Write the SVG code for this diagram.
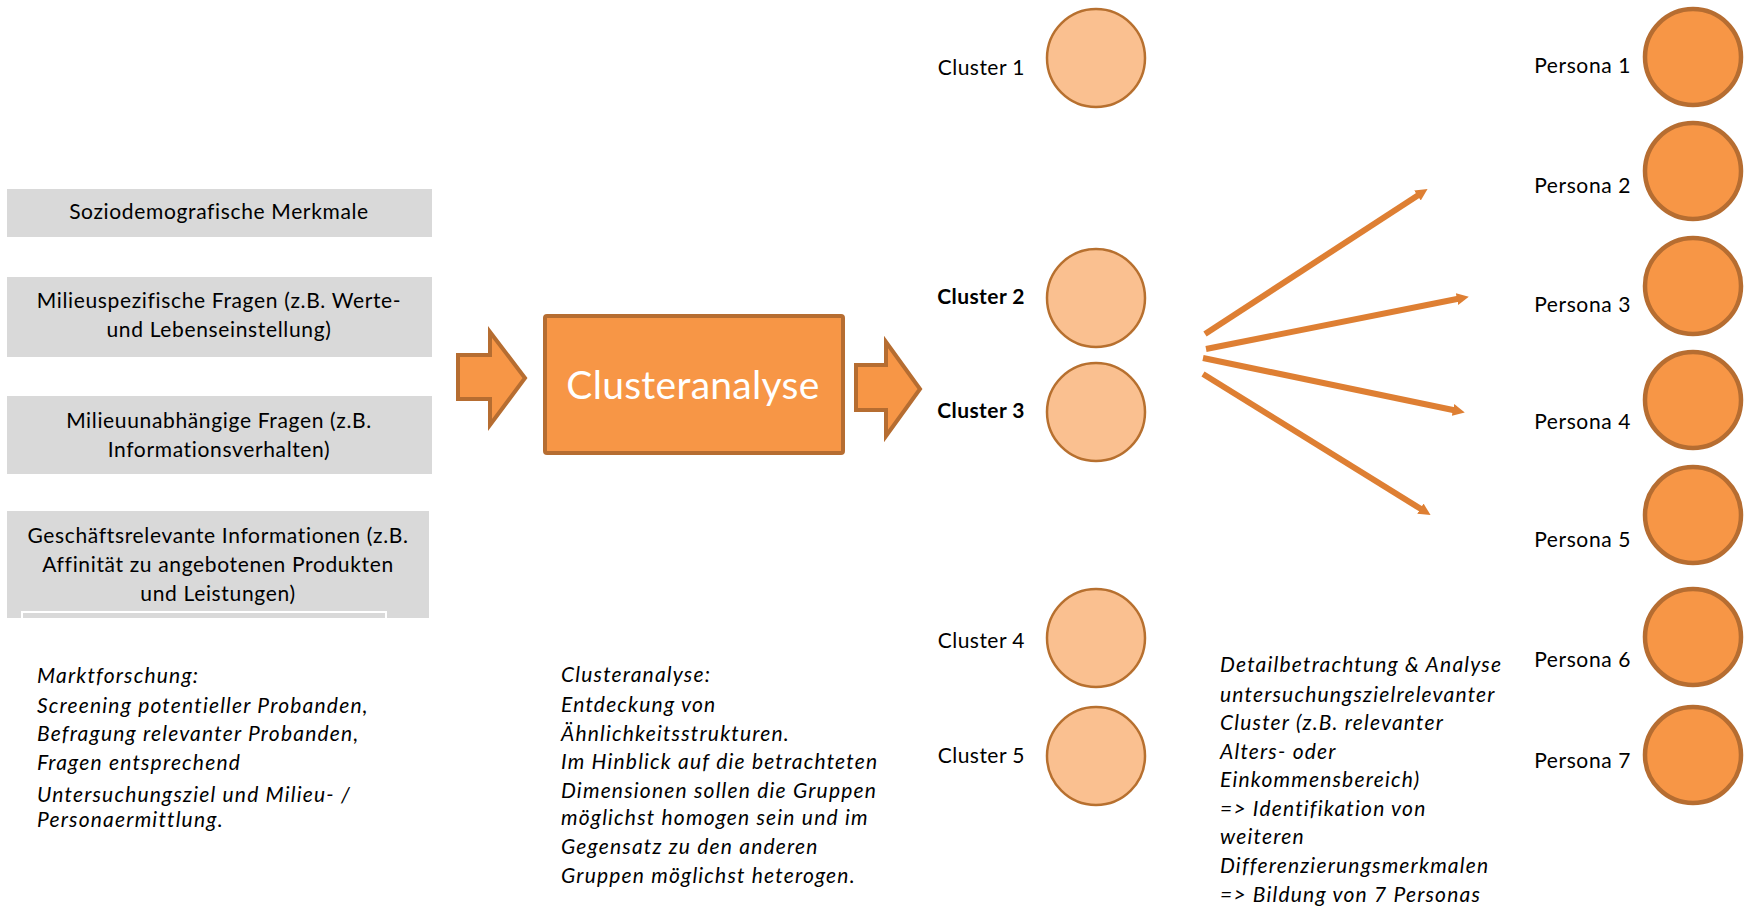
<svg xmlns="http://www.w3.org/2000/svg" width="1749" height="907" viewBox="0 0 1749 907">
  <defs>
    <style>
      .t { font-family: Lato, "Open Sans", "Liberation Sans", sans-serif; fill: #000; }
      .box { fill: #D9D9D9; }
      .boxtxt { font-size: 21px; letter-spacing: 0.65px; text-anchor: middle; }
      .note { font-size: 21px; letter-spacing: 1.2px; font-style: italic; }
      .lbl { font-size: 21px; letter-spacing: 0.45px; text-anchor: end; }
      .plbl { letter-spacing: 0.6px; }
      .bold { font-weight: bold; }
      .cluster { fill: #FAC090; stroke: #B7702F; stroke-width: 2.5; }
      .persona { fill: #F79646; stroke: #B66D31; stroke-width: 4.5; }
      .block { fill: #F79646; stroke: #B66D31; stroke-width: 4; stroke-linejoin: miter; }
      .link { stroke: #DE7F33; stroke-width: 6; fill: none; marker-end: url(#head); }
    </style>
    <marker id="head" viewBox="0 0 10 10" refX="1" refY="5" markerWidth="12" markerHeight="13" markerUnits="userSpaceOnUse" orient="auto">
      <path d="M0,0 L10,5 L0,10 z" fill="#DE7F33"/>
    </marker>
  </defs>

  <rect width="1749" height="907" fill="#FFFFFF"/>

  <!-- input categories -->
  <g id="box-sozio">
    <rect class="box" x="7" y="189" width="425" height="48"/>
    <text class="t boxtxt" x="219" y="219">Soziodemografische Merkmale</text>
  </g>
  <g id="box-milieu">
    <rect class="box" x="7" y="277" width="425" height="80"/>
    <text class="t boxtxt" x="219" y="308">Milieuspezifische Fragen (z.B. Werte-</text>
    <text class="t boxtxt" x="219" y="337">und Lebenseinstellung)</text>
  </g>
  <g id="box-unabh">
    <rect class="box" x="7" y="396" width="425" height="78"/>
    <text class="t boxtxt" x="219" y="428">Milieuunabhängige Fragen (z.B.</text>
    <text class="t boxtxt" x="219" y="457">Informationsverhalten)</text>
  </g>
  <g id="box-business">
    <rect class="box" x="7" y="511" width="422" height="107"/>
    <text class="t boxtxt" x="218" y="543">Geschäftsrelevante Informationen (z.B.</text>
    <text class="t boxtxt" x="218" y="572">Affinität zu angebotenen Produkten</text>
    <text class="t boxtxt" x="218" y="601">und Leistungen)</text>
    <path d="M22,618 V612 H386 V618" fill="none" stroke="#FFFFFF" stroke-width="2"/>
  </g>

  <!-- block arrows and central step -->
  <g id="arrow-in">
    <polygon class="block" points="458,355 490,355 490,332 525,378 490,425 490,399 458,399"/>
  </g>
  <g id="clusteranalyse">
    <rect class="block" x="545" y="316" width="298" height="137" rx="2"/>
    <text class="t" x="693" y="399" font-size="39" letter-spacing="0.3" text-anchor="middle" style="fill:#FFFFFF">Clusteranalyse</text>
  </g>
  <g id="arrow-out">
    <polygon class="block" points="856,365 886,365 886,342 920,389 886,436 886,410 856,410"/>
  </g>

  <!-- clusters -->
  <g id="cluster-1">
    <circle class="cluster" cx="1096" cy="58" r="49"/>
    <text class="t lbl" x="1025" y="75">Cluster 1</text>
  </g>
  <g id="cluster-2">
    <circle class="cluster" cx="1096" cy="298" r="49"/>
    <text class="t lbl bold" x="1025" y="304">Cluster 2</text>
  </g>
  <g id="cluster-3">
    <circle class="cluster" cx="1096" cy="412" r="49"/>
    <text class="t lbl bold" x="1025" y="418">Cluster 3</text>
  </g>
  <g id="cluster-4">
    <circle class="cluster" cx="1096" cy="638" r="49"/>
    <text class="t lbl" x="1025" y="648">Cluster 4</text>
  </g>
  <g id="cluster-5">
    <circle class="cluster" cx="1096" cy="756" r="49"/>
    <text class="t lbl" x="1025" y="763">Cluster 5</text>
  </g>

  <!-- fan of connectors from clusters 2/3 towards the personas -->
  <g id="connectors">
    <line class="link" x1="1205" y1="334" x2="1418.5" y2="194.9"/>
    <line class="link" x1="1206" y1="349" x2="1458.2" y2="298.8"/>
    <line class="link" x1="1203" y1="358" x2="1454.2" y2="410.2"/>
    <line class="link" x1="1203" y1="374" x2="1421.4" y2="509.3"/>
  </g>

  <!-- personas -->
  <g id="persona-1">
    <circle class="persona" cx="1693" cy="57" r="48"/>
    <text class="t lbl plbl" x="1631" y="73">Persona 1</text>
  </g>
  <g id="persona-2">
    <circle class="persona" cx="1693" cy="171" r="48"/>
    <text class="t lbl plbl" x="1631" y="193">Persona 2</text>
  </g>
  <g id="persona-3">
    <circle class="persona" cx="1693" cy="286" r="48"/>
    <text class="t lbl plbl" x="1631" y="312">Persona 3</text>
  </g>
  <g id="persona-4">
    <circle class="persona" cx="1693" cy="400" r="48"/>
    <text class="t lbl plbl" x="1631" y="429">Persona 4</text>
  </g>
  <g id="persona-5">
    <circle class="persona" cx="1693" cy="515" r="48"/>
    <text class="t lbl plbl" x="1631" y="547">Persona 5</text>
  </g>
  <g id="persona-6">
    <circle class="persona" cx="1693" cy="637" r="48"/>
    <text class="t lbl plbl" x="1631" y="667">Persona 6</text>
  </g>
  <g id="persona-7">
    <circle class="persona" cx="1693" cy="755" r="48"/>
    <text class="t lbl plbl" x="1631" y="768">Persona 7</text>
  </g>

  <!-- explanatory notes -->
  <g id="note-marktforschung">
    <text class="t note" x="37" y="683">Marktforschung:</text>
    <text class="t note" x="37" y="713">Screening potentieller Probanden,</text>
    <text class="t note" x="37" y="741">Befragung relevanter Probanden,</text>
    <text class="t note" x="37" y="770">Fragen entsprechend</text>
    <text class="t note" x="37" y="802">Untersuchungsziel und Milieu- /</text>
    <text class="t note" x="37" y="827">Personaermittlung.</text>
  </g>
  <g id="note-clusteranalyse">
    <text class="t note" x="561" y="682">Clusteranalyse:</text>
    <text class="t note" x="561" y="712">Entdeckung von</text>
    <text class="t note" x="561" y="741">Ähnlichkeitsstrukturen.</text>
    <text class="t note" x="561" y="769">Im Hinblick auf die betrachteten</text>
    <text class="t note" x="561" y="798">Dimensionen sollen die Gruppen</text>
    <text class="t note" x="561" y="825">möglichst homogen sein und im</text>
    <text class="t note" x="561" y="854">Gegensatz zu den anderen</text>
    <text class="t note" x="561" y="883">Gruppen möglichst heterogen.</text>
  </g>
  <g id="note-detail">
    <text class="t note" x="1220" y="672">Detailbetrachtung &amp; Analyse</text>
    <text class="t note" x="1220" y="702">untersuchungszielrelevanter</text>
    <text class="t note" x="1220" y="730">Cluster (z.B. relevanter</text>
    <text class="t note" x="1220" y="759">Alters- oder</text>
    <text class="t note" x="1220" y="787">Einkommensbereich)</text>
    <text class="t note" x="1220" y="816">=&gt; Identifikation von</text>
    <text class="t note" x="1220" y="844">weiteren</text>
    <text class="t note" x="1220" y="873">Differenzierungsmerkmalen</text>
    <text class="t note" x="1220" y="902">=&gt; Bildung von 7 Personas</text>
  </g>
</svg>
